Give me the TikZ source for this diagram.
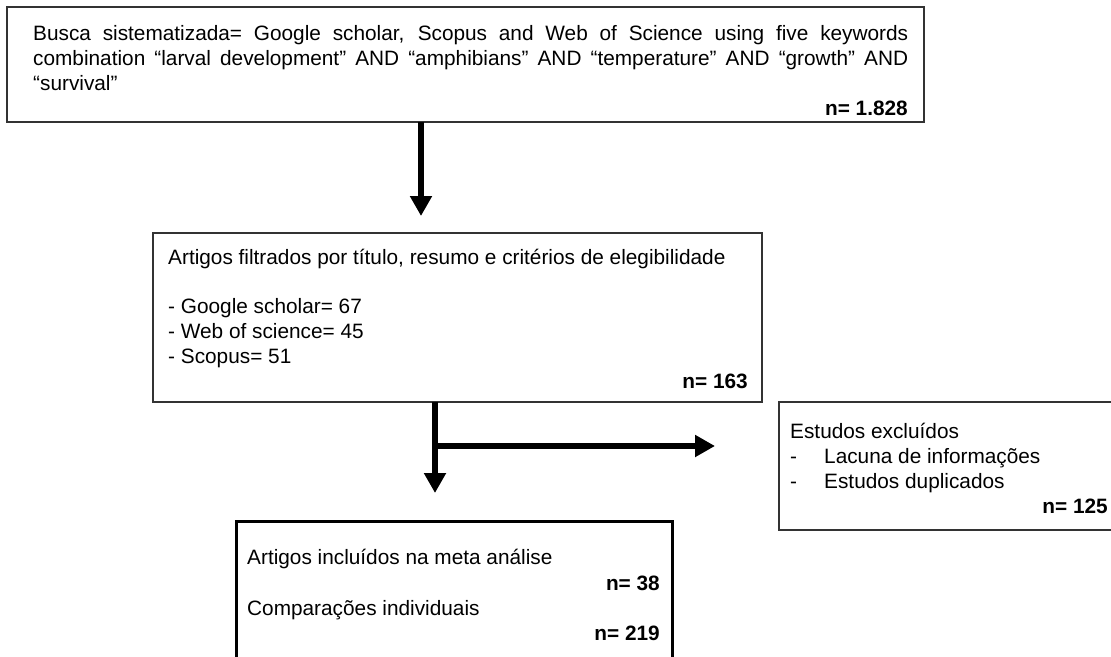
\documentclass[tikz,border=0pt]{standalone}
\usepackage{fontspec}
\setmainfont{Liberation Sans}
\usetikzlibrary{arrows.meta}
\begin{document}
\begin{tikzpicture}[x=1pt,y=-1pt,
  box/.style={draw=black!80, line width=1.3pt, rectangle, anchor=north west, inner sep=0pt, outer sep=0pt},
  thickbox/.style={box, draw=black, line width=3pt},
  txt/.style={anchor=base west, inner sep=0pt, font=\fontsize{20.8}{25}\selectfont},
  num/.style={anchor=base east, inner sep=0pt, font=\fontsize{20.8}{25}\selectfont\bfseries},
  bigarrow/.style={line width=6pt, -{Triangle[width=21pt,length=20pt]}}]
\useasboundingbox (0,0) rectangle (1111,656);
\fill[white] (0,0) rectangle (1111,656);
% boxes
\node[box, minimum width=917pt, minimum height=115pt] (b1) at (7,7) {};
\node[box, minimum width=609pt, minimum height=169pt] (b2) at (153,233) {};
\node[box, minimum width=340pt, minimum height=128pt] (b3) at (779,402) {};
\node[thickbox, minimum width=436pt, minimum height=150pt] (b4) at (236,521) {};
% box 1 text
\node[txt] (t11) at (33,40) {\makebox[875pt][s]{Busca sistematizada= Google scholar, Scopus and Web of Science using five keywords}};
\node[txt] (t12) at (33,65) {\makebox[875pt][s]{combination “larval development” AND “amphibians” AND “temperature” AND “growth” AND}};
\node[txt] (t13) at (33,90) {“survival”};
\node[num] (n1) at (908,115) {n= 1.828};
% box 2 text
\node[txt] (t21) at (168,264) {Artigos filtrados por título, resumo e critérios de elegibilidade};
\node[txt] (t22) at (168,313) {- Google scholar= 67};
\node[txt] (t23) at (168,338) {- Web of science= 45};
\node[txt] (t24) at (168,363) {- Scopus= 51};
\node[num] (n2) at (748,388) {n= 163};
% box 3 text
\node[txt] (t31) at (790,438) {Estudos excluídos};
\node[txt] (d32) at (790,463) {-};
\node[txt] (t32) at (824,463) {Lacuna de informações};
\node[txt] (d33) at (790,488) {-};
\node[txt] (t33) at (824,488) {Estudos duplicados};
\node[num] (n3) at (1108,513) {n= 125};
% box 4 text
\node[txt] (t41) at (247,564) {Artigos incluídos na meta análise};
\node[num] (n41) at (660,590) {n= 38};
\node[txt] (t42) at (247,615) {Comparações individuais};
\node[num] (n42) at (660,640) {n= 219};
% arrows
\coordinate (a1) at (421,0);
\coordinate (a2) at (435,0);
\coordinate (j) at (435,446);
\draw[bigarrow, shorten >=17pt] (b1.south -| a1) -- (b2.north -| a1);
\draw[bigarrow, shorten >=28pt] (b2.south -| a2) -- (b4.north -| a2);
\draw[bigarrow, shorten >=64pt] ([xshift=-3pt]j) -- (b3.west |- j);
\end{tikzpicture}
\end{document}
